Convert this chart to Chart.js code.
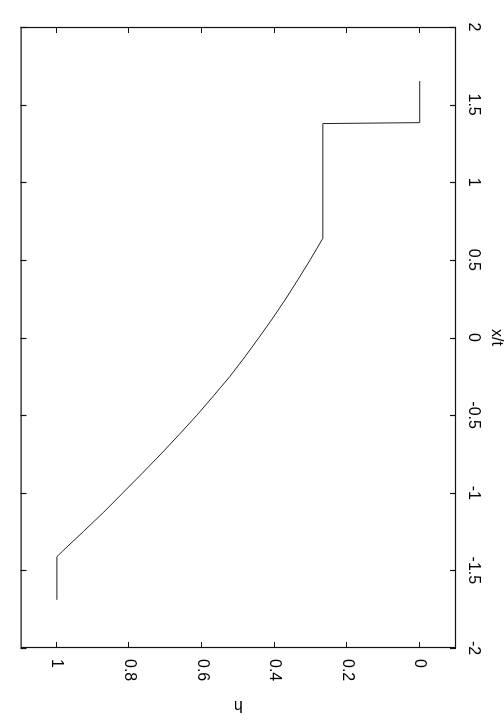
<!DOCTYPE html>
<html>
<head>
<meta charset="utf-8">
<script src="https://cdn.jsdelivr.net/npm/chart.js@4.4.1/dist/chart.umd.min.js"></script>
<style>
  html, body { margin: 0; padding: 0; overflow: hidden; background: #fff; width: 504px; height: 720px; }
  #wrap {
    position: absolute; left: 0; top: 0; width: 720px; height: 504px;
    transform-origin: 0 0; transform: translateX(504px) rotate(90deg);
  }
  canvas { display: block; }
</style>
</head>
<body>
<div id="wrap"><canvas id="c" width="720" height="504" style="width:720px;height:504px"></canvas></div>
<script>
// x/t values of the traced curve
const xt = [-1.69, -1.412, -1.375, -1.25, -1.125, -1.0, -0.875, -0.75, -0.625, -0.5,
            -0.375, -0.25, -0.125, 0, 0.125, 0.25, 0.375, 0.5, 0.639, 1.378, 1.384, 1.652];
// water depth h at those x/t
const h  = [1.0, 1.0, 0.984, 0.927, 0.871, 0.818, 0.765, 0.713, 0.663, 0.614,
            0.568, 0.523, 0.482, 0.443, 0.405, 0.369, 0.335, 0.302, 0.267, 0.267, 0.0, 0.0];

const xtTicks = [-2, -1.5, -1, -0.5, 0, 0.5, 1, 1.5, 2];
const hTicks = [0, 0.2, 0.4, 0.6, 0.8, 1];
const xTitle = 'x/t';
const yTitle = 'h';

const FONT = { family: '"Liberation Sans", Arial, Helvetica, sans-serif', size: 16 };

const frameTicks = {
  id: 'frameTicks',
  afterDraw(chart) {
    const { ctx, chartArea: a, scales: { x, y } } = chart;
    ctx.save();
    ctx.strokeStyle = '#111';
    ctx.lineWidth = 1.2;
    ctx.strokeRect(a.left + 0.5, a.top + 0.5, a.right - a.left - 1, a.bottom - a.top - 1);
    const L = 6;
    ctx.beginPath();
    x.ticks.forEach(t => {
      const px = Math.round(x.getPixelForValue(t.value)) + 0.5;
      ctx.moveTo(px, a.top); ctx.lineTo(px, a.top + L);
      ctx.moveTo(px, a.bottom); ctx.lineTo(px, a.bottom - L);
    });
    y.ticks.forEach(t => {
      const py = Math.round(y.getPixelForValue(t.value)) + 0.5;
      ctx.moveTo(a.left, py); ctx.lineTo(a.left + L, py);
      ctx.moveTo(a.right, py); ctx.lineTo(a.right - L, py);
    });
    ctx.stroke();
    ctx.restore();
  }
};

new Chart(document.getElementById('c'), {
  type: 'scatter',
  data: {
    datasets: [{
      data: xt.map((v, i) => ({ x: v, y: h[i] })),
      showLine: true,
      borderColor: '#222',
      borderWidth: 1,
      pointRadius: 0,
      tension: 0,
      fill: false
    }]
  },
  options: {
    responsive: false,
    animation: false,
    layout: { padding: { left: 27, bottom: 19, top: 0, right: 0 } },
    plugins: { legend: { display: false }, tooltip: { enabled: false } },
    scales: {
      x: {
        type: 'linear', position: 'top', reverse: true, min: -2, max: 2,
        afterBuildTicks: s => { s.ticks = xtTicks.map(v => ({ value: v })); },
        afterFit: s => { s.height = 48; },
        grid: { display: false, drawTicks: false }, border: { display: false },
        ticks: { font: FONT, color: '#000', padding: 8, maxRotation: 0, minRotation: 0, autoSkip: false,
                 callback: v => String(v) },
        title: { display: true, text: xTitle, font: FONT, color: '#000', padding: { top: -2, bottom: 0 } }
      },
      y: {
        type: 'linear', position: 'right', reverse: true, min: -0.1, max: 1.1,
        afterBuildTicks: s => { s.ticks = hTicks.map(v => ({ value: v })); },
        afterFit: s => { s.width = 72; },
        grid: { display: false, drawTicks: false }, border: { display: false },
        ticks: { font: FONT, color: '#000', padding: 11, autoSkip: false,
                 callback: v => String(v) },
        title: { display: true, text: yTitle, font: FONT, color: '#000', padding: { top: 5, bottom: 0 } }
      }
    }
  },
  plugins: [frameTicks]
});
</script>
</body>
</html>
